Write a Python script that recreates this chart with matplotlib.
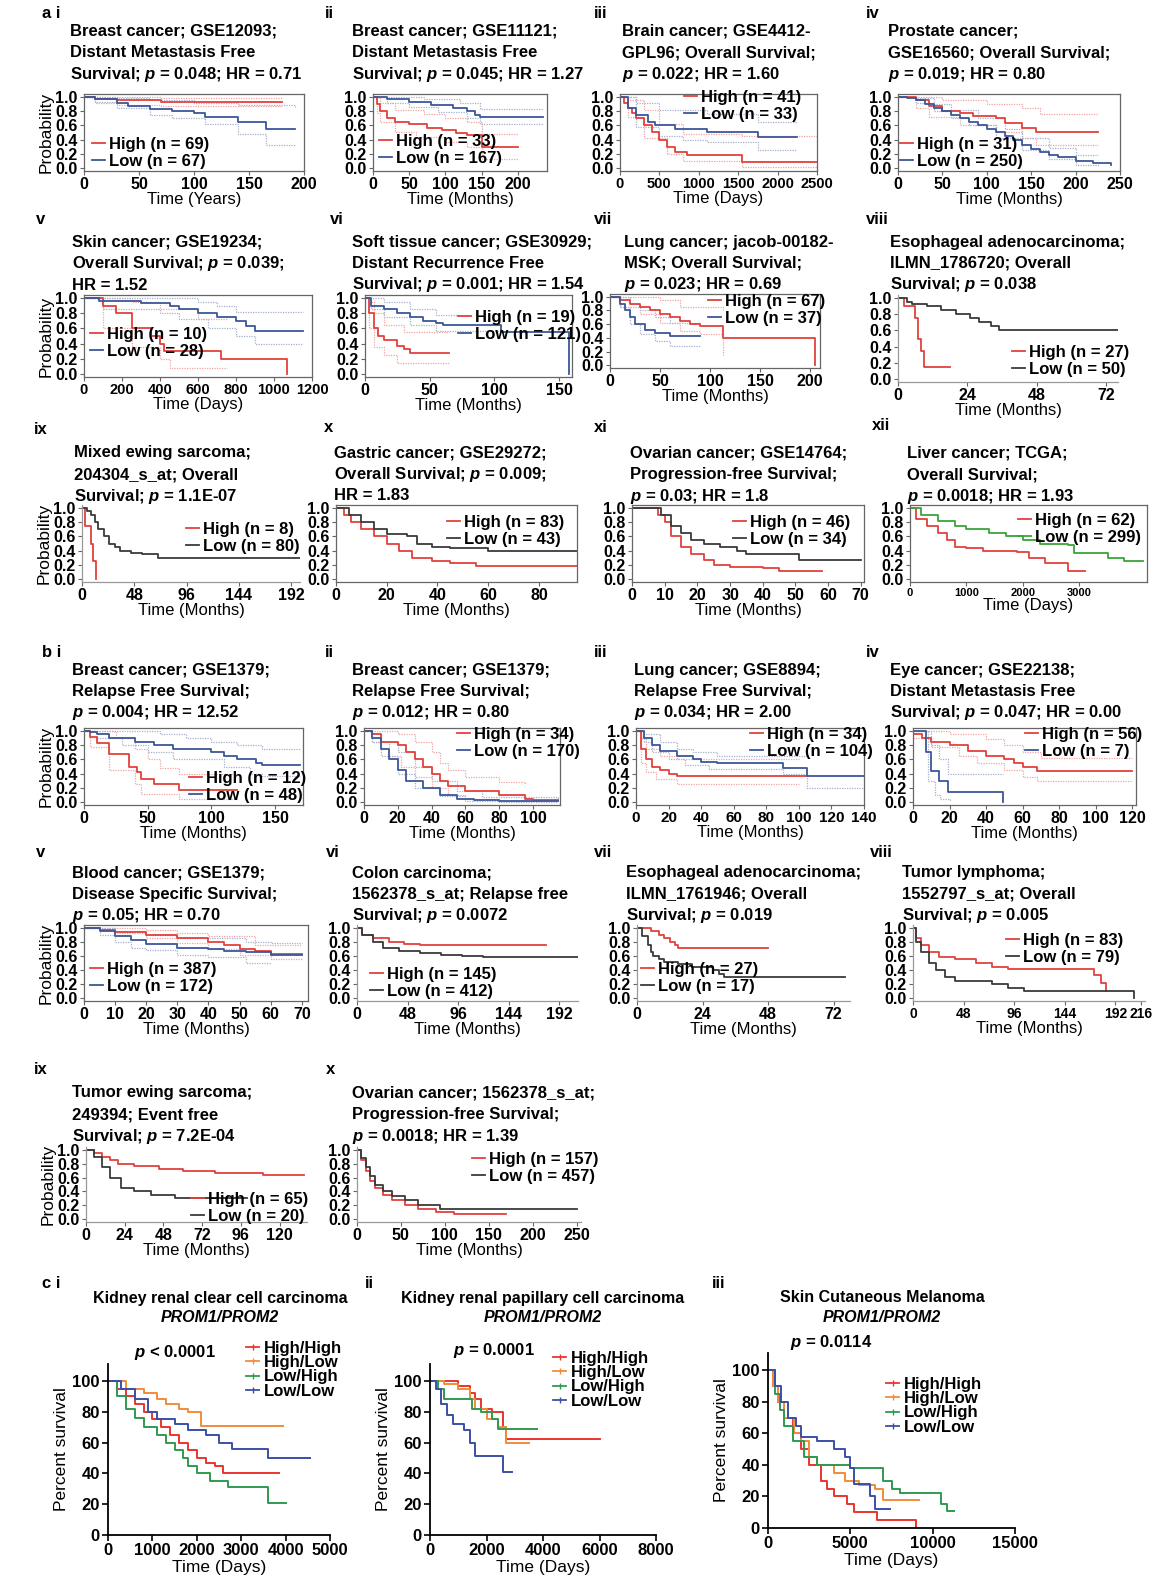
import matplotlib
matplotlib.use('Agg')
import matplotlib.pyplot as plt
from matplotlib.lines import Line2D

W, H = 1153, 1577
plt.rcParams['font.family'] = ['Liberation Sans', 'DejaVu Sans']
plt.rcParams['font.weight'] = 'bold'
plt.rcParams['mathtext.fontset'] = 'custom'
plt.rcParams['mathtext.it'] = 'Liberation Sans:italic:bold'
plt.rcParams['mathtext.rm'] = 'Liberation Sans:bold'
plt.rcParams['mathtext.bf'] = 'Liberation Sans:bold'

# ---------------- survival curves (time, survival) ----------------
# a i
A1_HI = ([0, 10, 30, 70, 180], [1, 0.97, 0.95, 0.93, 0.93])
A1_LO = ([0, 10, 30, 40, 60, 80, 100, 110, 140, 165, 192], [1, 0.97, 0.92, 0.87, 0.83, 0.8, 0.78, 0.72, 0.65, 0.55, 0.55])
A1_HI_UP = ([0, 30, 70, 180], [1, 1, 0.99, 0.99])
A1_HI_LO = ([0, 10, 30, 70, 180], [1, 0.92, 0.89, 0.87, 0.87])
A1_LO_UP = ([0, 30, 60, 100, 140, 192], [1, 0.99, 0.95, 0.92, 0.88, 0.86])
A1_LO_LO = ([0, 10, 30, 60, 80, 110, 140, 165, 192], [1, 0.93, 0.85, 0.75, 0.7, 0.62, 0.48, 0.33, 0.33])
# a ii
A2_HI = ([0, 5, 10, 20, 30, 50, 75, 95, 115, 130, 150, 200], [1, 0.9, 0.8, 0.7, 0.65, 0.62, 0.57, 0.53, 0.49, 0.46, 0.3, 0.3])
A2_LO = ([0, 20, 50, 80, 110, 130, 140, 148, 235], [1, 0.97, 0.93, 0.88, 0.85, 0.8, 0.75, 0.72, 0.72])
A2_HI_UP = ([0, 10, 30, 70, 100, 130, 150, 200], [1, 0.92, 0.82, 0.76, 0.7, 0.65, 0.48, 0.48])
A2_HI_LO = ([0, 5, 10, 30, 60, 100, 130, 150, 200], [1, 0.78, 0.65, 0.5, 0.43, 0.36, 0.3, 0.13, 0.13])
A2_LO_UP = ([0, 70, 120, 148, 235], [1, 0.97, 0.92, 0.83, 0.83])
A2_LO_LO = ([0, 20, 50, 90, 130, 148, 235], [1, 0.92, 0.86, 0.79, 0.7, 0.62, 0.62])
# a iii
A3_HI = ([0, 50, 100, 150, 200, 300, 400, 500, 600, 700, 850, 1550, 2500], [1, 0.92, 0.85, 0.78, 0.7, 0.6, 0.5, 0.4, 0.3, 0.22, 0.18, 0.08, 0.08])
A3_LO = ([0, 100, 200, 350, 450, 700, 1100, 1750, 2250], [1, 0.85, 0.75, 0.65, 0.6, 0.55, 0.5, 0.43, 0.43])
A3_HI_UP = ([0, 100, 300, 500, 800, 1550, 2500], [1, 0.95, 0.82, 0.62, 0.48, 0.45, 0.45])
A3_HI_LO = ([0, 100, 300, 600, 800, 1550, 2500], [1, 0.72, 0.42, 0.2, 0.1, 0.02, 0.02])
A3_LO_UP = ([0, 200, 500, 1100, 1750, 2250], [1, 0.92, 0.82, 0.76, 0.65, 0.65])
A3_LO_LO = ([0, 200, 500, 800, 1100, 1750, 2250], [1, 0.58, 0.45, 0.4, 0.37, 0.25, 0.25])
# a iv
A4_HI = ([0, 20, 35, 50, 70, 85, 110, 120, 140, 155, 225], [1, 0.95, 0.87, 0.8, 0.77, 0.73, 0.7, 0.63, 0.57, 0.5, 0.5])
A4_LO = ([0, 10, 20, 30, 40, 50, 60, 70, 80, 90, 100, 110, 120, 130, 140, 150, 160, 170, 180, 200, 220, 240],
         [1, 0.98, 0.95, 0.9, 0.85, 0.8, 0.75, 0.7, 0.65, 0.6, 0.55, 0.5, 0.45, 0.39, 0.33, 0.27, 0.22, 0.18, 0.15, 0.1, 0.07, 0.04])
A4_HI_UP = ([0, 50, 100, 140, 160, 225], [1, 0.95, 0.9, 0.85, 0.76, 0.76])
A4_HI_LO = ([0, 20, 35, 70, 110, 140, 155, 225], [1, 0.85, 0.72, 0.6, 0.5, 0.42, 0.32, 0.32])
A4_LO_UP = ([0, 20, 40, 60, 90, 120, 140, 170, 200, 225], [1, 0.98, 0.9, 0.82, 0.7, 0.55, 0.42, 0.28, 0.18, 0.18])
A4_LO_LO = ([0, 20, 40, 60, 80, 110, 140, 170, 200, 225], [1, 0.92, 0.8, 0.7, 0.6, 0.42, 0.25, 0.13, 0.05, 0.02])
# a v
A5_HI = ([0, 100, 170, 250, 350, 400, 420, 720, 1070], [1, 0.9, 0.8, 0.6, 0.5, 0.4, 0.3, 0.2, 0.0])
A5_LO = ([0, 80, 300, 450, 500, 600, 700, 800, 850, 900, 1150], [1, 0.96, 0.93, 0.89, 0.85, 0.8, 0.75, 0.7, 0.63, 0.56, 0.56])
A5_HI_UP = ([0, 250, 400, 600, 750], [1, 0.95, 0.85, 0.72, 0.72])
A5_HI_LO = ([0, 100, 250, 400, 450, 750], [1, 0.6, 0.35, 0.2, 0.08, 0.08])
A5_LO_UP = ([0, 500, 600, 700, 800, 1150], [1, 1, 0.95, 0.9, 0.82, 0.82])
A5_LO_LO = ([0, 100, 400, 500, 650, 800, 900, 1150], [1, 0.85, 0.8, 0.72, 0.6, 0.5, 0.4, 0.4])
# a vi
A6_HI = ([0, 3, 7, 10, 15, 25, 30, 35, 65], [1, 0.8, 0.6, 0.5, 0.45, 0.37, 0.33, 0.28, 0.28])
A6_LO = ([0, 5, 15, 25, 35, 45, 55, 60, 105, 158], [1, 0.9, 0.85, 0.8, 0.75, 0.7, 0.67, 0.64, 0.55, 0.0])
A6_HI_UP = ([0, 3, 7, 15, 30, 65], [1, 0.95, 0.8, 0.65, 0.55, 0.55])
A6_HI_LO = ([0, 3, 7, 15, 25, 65], [1, 0.6, 0.35, 0.25, 0.15, 0.13])
A6_LO_UP = ([0, 15, 35, 55, 75], [1, 0.95, 0.85, 0.78, 0.76])
A6_LO_LO = ([0, 5, 15, 35, 55, 105], [1, 0.85, 0.75, 0.65, 0.57, 0.55])
# a vii
A7_HI = ([0, 10, 20, 30, 40, 50, 60, 70, 80, 90, 113, 205], [1, 0.95, 0.9, 0.85, 0.8, 0.75, 0.7, 0.65, 0.6, 0.58, 0.4, 0.0])
A7_LO = ([0, 10, 15, 20, 25, 35, 45, 60, 90], [1, 0.9, 0.8, 0.7, 0.6, 0.52, 0.47, 0.43, 0.43])
A7_HI_UP = ([0, 30, 50, 70, 113], [1, 1, 0.95, 0.85, 0.8])
A7_HI_LO = ([0, 10, 30, 50, 70, 90, 113], [1, 0.85, 0.75, 0.62, 0.5, 0.45, 0.15])
A7_LO_UP = ([0, 20, 30, 45, 60, 90], [1, 0.9, 0.8, 0.7, 0.62, 0.6])
A7_LO_LO = ([0, 10, 20, 30, 45, 60, 90], [1, 0.85, 0.6, 0.45, 0.35, 0.28, 0.28])
# a viii - a xii
A8_HI = ([0, 2, 6, 7, 8, 9, 18], [1, 0.9, 0.75, 0.5, 0.35, 0.15, 0.15])
A8_LO = ([0, 3, 5, 10, 15, 20, 25, 28, 32, 35, 76], [1, 0.95, 0.93, 0.9, 0.85, 0.8, 0.75, 0.7, 0.65, 0.6, 0.6])
A9_HI = ([0, 3, 8, 10, 13], [1, 0.75, 0.5, 0.25, 0.0])
A9_LO = ([0, 5, 8, 12, 15, 20, 25, 30, 35, 45, 55, 70, 200], [1, 0.95, 0.9, 0.8, 0.7, 0.6, 0.5, 0.45, 0.4, 0.37, 0.35, 0.3, 0.3])
A10_HI = ([0, 3, 6, 10, 15, 20, 25, 30, 38, 45, 55, 95], [1, 0.9, 0.8, 0.7, 0.6, 0.5, 0.4, 0.3, 0.25, 0.22, 0.19, 0.19])
A10_LO = ([0, 5, 10, 15, 20, 28, 32, 38, 45, 60, 95], [1, 0.9, 0.8, 0.7, 0.63, 0.6, 0.5, 0.45, 0.43, 0.4, 0.4])
A11_HI = ([0, 8, 10, 12, 15, 18, 22, 25, 30, 40, 45, 58], [1, 0.9, 0.8, 0.6, 0.45, 0.35, 0.27, 0.2, 0.17, 0.15, 0.12, 0.12])
A11_LO = ([0, 9, 12, 15, 18, 22, 27, 32, 35, 51, 70], [1, 0.9, 0.75, 0.65, 0.55, 0.5, 0.45, 0.4, 0.35, 0.27, 0.27])
A12_HI = ([0, 100, 300, 500, 650, 800, 1000, 1300, 1900, 2100, 2400, 2800, 3100], [1, 0.85, 0.75, 0.65, 0.55, 0.45, 0.43, 0.4, 0.38, 0.3, 0.22, 0.12, 0.12])
A12_LO = ([0, 200, 500, 800, 1000, 1400, 1700, 2000, 2300, 2800, 2900, 3500, 3800, 4130], [1, 0.9, 0.82, 0.75, 0.7, 0.65, 0.6, 0.55, 0.5, 0.48, 0.37, 0.3, 0.25, 0.25])

# b i - b v (with confidence bands)
B1_HI = ([0, 5, 10, 20, 35, 42, 45, 55, 75, 120], [1, 0.92, 0.83, 0.67, 0.5, 0.42, 0.33, 0.25, 0.17, 0.17])
B1_LO = ([0, 5, 10, 20, 40, 55, 70, 100, 110, 120, 135, 140, 170], [1, 0.98, 0.95, 0.9, 0.85, 0.8, 0.75, 0.7, 0.65, 0.6, 0.55, 0.52, 0.52])
B1_HI_UP = ([0, 20, 25, 40, 50, 60, 75, 120], [1, 1, 0.9, 0.75, 0.6, 0.48, 0.4, 0.4])
B1_HI_LO = ([0, 5, 20, 40, 45, 75, 120], [1, 0.77, 0.45, 0.25, 0.12, 0.05, 0.05])
B1_LO_UP = ([0, 40, 60, 80, 100, 120, 140, 170], [1, 1, 0.95, 0.9, 0.85, 0.8, 0.75, 0.75])
B1_LO_LO = ([0, 10, 30, 50, 70, 110, 130, 140, 170], [1, 0.9, 0.8, 0.7, 0.6, 0.5, 0.4, 0.37, 0.37])
B2_HI = ([0, 5, 10, 20, 25, 30, 35, 40, 45, 50, 60, 80, 95, 100, 115], [1, 0.95, 0.85, 0.8, 0.7, 0.6, 0.5, 0.4, 0.3, 0.22, 0.15, 0.1, 0.05, 0.03, 0.03])
B2_LO = ([0, 5, 10, 15, 20, 25, 35, 45, 55, 65, 80, 115], [1, 0.9, 0.75, 0.6, 0.45, 0.3, 0.2, 0.1, 0.05, 0.03, 0.01, 0.01])
B2_HI_UP = ([0, 15, 20, 30, 40, 45, 50, 60, 80, 95], [1, 1, 0.95, 0.85, 0.7, 0.55, 0.45, 0.35, 0.28, 0.24])
B2_HI_LO = ([0, 5, 15, 22, 30, 40, 50, 60, 80, 115], [1, 0.85, 0.65, 0.5, 0.35, 0.2, 0.1, 0.05, 0.02, 0.02])
B2_LO_UP = ([0, 5, 10, 20, 30, 40, 55, 70, 115], [1, 0.95, 0.85, 0.7, 0.5, 0.3, 0.15, 0.07, 0.05])
B2_LO_LO = ([0, 5, 10, 20, 30, 45, 60, 80, 115], [1, 0.85, 0.65, 0.4, 0.2, 0.08, 0.02, 0.0, 0.0])
B3_HI = ([0, 3, 6, 10, 15, 20, 25, 105], [1, 0.75, 0.6, 0.5, 0.45, 0.4, 0.37, 0.37])
B3_LO = ([0, 5, 10, 15, 25, 35, 40, 50, 90, 105, 140], [1, 0.9, 0.8, 0.72, 0.65, 0.6, 0.57, 0.55, 0.48, 0.37, 0.37])
B3_HI_UP = ([0, 3, 6, 15, 25, 100], [1, 0.9, 0.75, 0.65, 0.6, 0.6])
B3_HI_LO = ([0, 3, 6, 12, 25, 100], [1, 0.55, 0.42, 0.32, 0.25, 0.25])
B3_LO_UP = ([0, 5, 15, 25, 35, 50, 105], [1, 0.95, 0.85, 0.75, 0.7, 0.65, 0.65])
B3_LO_LO = ([0, 5, 10, 20, 30, 45, 90, 105, 140], [1, 0.85, 0.7, 0.6, 0.52, 0.47, 0.4, 0.2, 0.2])
B4_HI = ([0, 5, 10, 20, 30, 40, 50, 55, 60, 68, 120], [0.95, 0.9, 0.85, 0.8, 0.72, 0.65, 0.6, 0.55, 0.5, 0.43, 0.43])
B4_LO = ([0, 7, 10, 14, 19, 49], [1, 0.71, 0.43, 0.29, 0.14, 0.0])
B4_HI_UP = ([0, 15, 20, 40, 50, 60, 70, 120], [1, 1, 0.95, 0.88, 0.8, 0.7, 0.62, 0.62])
B4_HI_LO = ([0, 10, 25, 35, 50, 60, 68, 120], [0.9, 0.78, 0.65, 0.55, 0.45, 0.35, 0.3, 0.3])
B4_LO_UP = ([0, 10, 14, 19, 49], [1, 0.8, 0.6, 0.4, 0.4])
B4_LO_LO = ([0, 8, 12, 15, 20], [1, 0.3, 0.1, 0.05, 0.02])
B5_HI = ([0, 5, 10, 20, 30, 40, 45, 50, 55, 60, 70], [1, 0.97, 0.94, 0.9, 0.85, 0.8, 0.75, 0.7, 0.67, 0.63, 0.63])
B5_LO = ([0, 5, 10, 15, 20, 30, 40, 45, 52, 60, 70], [1, 0.95, 0.88, 0.82, 0.77, 0.72, 0.7, 0.67, 0.65, 0.62, 0.62])
B5_HI_UP = ([0, 20, 30, 40, 55, 70], [1, 0.97, 0.92, 0.88, 0.76, 0.76])
B5_HI_LO = ([0, 10, 20, 30, 40, 50, 60, 70], [1, 0.92, 0.85, 0.78, 0.7, 0.62, 0.55, 0.55])
B5_LO_UP = ([0, 10, 20, 30, 52, 60, 70], [1, 0.95, 0.9, 0.85, 0.8, 0.78, 0.78])
B5_LO_LO = ([0, 5, 10, 15, 20, 30, 40, 52, 60], [1, 0.9, 0.8, 0.72, 0.68, 0.62, 0.58, 0.5, 0.5])
# b vi - b x
B6_HI = ([0, 5, 15, 30, 45, 60, 180], [1, 0.9, 0.85, 0.8, 0.77, 0.75, 0.75])
B6_LO = ([0, 5, 15, 25, 40, 60, 80, 100, 120, 210], [1, 0.9, 0.8, 0.72, 0.67, 0.64, 0.62, 0.6, 0.58, 0.58])
B7_HI = ([0, 5, 8, 10, 12, 14, 15, 48], [1, 0.95, 0.9, 0.85, 0.8, 0.75, 0.72, 0.72])
B7_LO = ([0, 2, 4, 5, 6, 8, 10, 15, 20, 28, 30, 32, 76], [1, 0.88, 0.75, 0.65, 0.6, 0.55, 0.52, 0.48, 0.45, 0.4, 0.35, 0.3, 0.3])
B8_HI = ([0, 3, 8, 15, 25, 40, 60, 75, 90, 172, 178, 183], [1, 0.85, 0.75, 0.65, 0.58, 0.55, 0.5, 0.45, 0.42, 0.33, 0.22, 0.1])
B8_LO = ([0, 3, 8, 15, 22, 30, 40, 75, 90, 105, 210], [1, 0.8, 0.65, 0.5, 0.4, 0.3, 0.25, 0.2, 0.15, 0.1, 0.0])
B9_HI = ([0, 5, 10, 15, 20, 30, 45, 60, 80, 110, 135], [1, 0.95, 0.9, 0.85, 0.8, 0.77, 0.72, 0.7, 0.67, 0.63, 0.63])
B9_LO = ([0, 5, 10, 15, 22, 30, 40, 55, 100], [1, 0.9, 0.75, 0.6, 0.45, 0.4, 0.35, 0.3, 0.3])
B10_HI = ([0, 5, 10, 15, 20, 30, 40, 55, 70, 90, 110, 170], [1, 0.85, 0.7, 0.55, 0.45, 0.35, 0.28, 0.2, 0.15, 0.1, 0.08, 0.08])
B10_LO = ([0, 5, 10, 15, 20, 30, 40, 55, 70, 95, 250], [1, 0.88, 0.75, 0.62, 0.5, 0.4, 0.33, 0.27, 0.2, 0.15, 0.15])

# c: PROM1/PROM2 groups, percent survival
C_GROUPS = ['High/High', 'High/Low', 'Low/High', 'Low/Low']
C1_HH = ([0, 200, 400, 600, 800, 1000, 1200, 1400, 1600, 1800, 2000, 2200, 2400, 2600, 3850], [100, 95, 90, 85, 80, 75, 70, 65, 60, 55, 50, 47, 45, 40, 40])
C1_HL = ([0, 400, 800, 1100, 1300, 1600, 1800, 2100, 3950], [100, 95, 92, 88, 85, 82, 80, 71, 71])
C1_LH = ([0, 200, 400, 600, 800, 1100, 1300, 1500, 1700, 1800, 2000, 2300, 2700, 3600, 4000], [100, 90, 82, 76, 70, 65, 60, 55, 50, 45, 40, 35, 31, 21, 21])
C1_LL = ([0, 300, 600, 900, 1100, 1500, 1800, 2200, 2500, 2800, 3600, 4550], [100, 95, 88, 80, 75, 72, 68, 65, 60, 56, 50, 50])
C2_HH = ([0, 1000, 1400, 1600, 1800, 2200, 2600, 2700, 6000], [100, 97, 92, 88, 82, 80, 70, 62, 62])
C2_HL = ([0, 500, 1000, 1400, 1600, 2000, 2400, 2700, 3500], [100, 98, 95, 88, 82, 75, 70, 60, 60])
C2_LH = ([0, 300, 500, 1500, 1800, 2200, 2400, 3800], [100, 95, 88, 82, 80, 75, 69, 69])
C2_LL = ([0, 200, 400, 600, 800, 1200, 1400, 1600, 2600, 2900], [100, 95, 85, 78, 72, 68, 60, 51, 41, 41])
C3_HH = ([0, 300, 600, 1000, 1500, 2000, 2500, 3200, 3600, 4000, 4800, 5200, 6600, 9000], [100, 90, 80, 70, 60, 50, 40, 30, 25, 20, 15, 10, 5, 0])
C3_HL = ([0, 300, 600, 1000, 1600, 2000, 2500, 3000, 4000, 4700, 5500, 6500, 7000, 9200], [100, 90, 80, 70, 60, 55, 45, 40, 35, 30, 27, 25, 18, 18])
C3_LH = ([0, 400, 700, 1000, 1500, 2200, 3000, 5000, 7000, 7500, 8000, 10500, 10900, 11300], [100, 85, 75, 65, 55, 45, 40, 38, 30, 25, 22, 15, 11, 11])
C3_LL = ([0, 400, 800, 1200, 1700, 2000, 3000, 4000, 4700, 5000, 5200, 6200, 6500, 7400], [100, 90, 80, 70, 65, 58, 55, 50, 45, 38, 28, 20, 12, 12])

# ---------------- colours ----------------
RED, BLUE, BLACK, GREEN = '#e2413c', '#3c5799', '#3a3a3a', '#3aa53a'
PINK, LBLUE = '#f2a4a4', '#a7b1cc'
C_COLORS = ['#e8352e', '#f28c3a', '#2f9a4f', '#3b4fa6']

fig = plt.figure(figsize=(W / 100, H / 100), dpi=100)


def place(l, t, r, b):
    return fig.add_axes([l / W, 1 - b / H, (r - l) / W, (b - t) / H])


def ftext(x, y, s, **kw):
    fig.text(x / W, 1 - y / H, s, **kw)


def kmp(tag, tag_xy, title, title_xy, rect, xlim, xticks, xlabel, curves, labels, leg_xy,
        ci=(), box=True, ylab=False, xfs=11.5):
    return dict(tag=tag, tag_xy=tag_xy, title=title, title_xy=title_xy, rect=rect, xlim=xlim,
                xticks=xticks, xlabel=xlabel, curves=curves, labels=labels, leg_xy=leg_xy,
                ci=ci, box=box, ylab=ylab, xfs=xfs)


MON, DAY = 'Time (Months)', 'Time (Days)'
PANELS = [
    kmp('a i', (42, 13), ['Breast cancer; GSE12093;', 'Distant Metastasis Free', 'Survival; $p$ = 0.048; HR = 0.71'], (70, 31),
        (84, 94, 304, 171), (0, 200), [0, 50, 100, 150, 200], 'Time (Years)',
        [(A1_HI, RED), (A1_LO, BLUE)], ['High (n = 69)', 'Low (n = 67)'], (92, 137),
        ci=[(A1_HI_UP, PINK), (A1_HI_LO, PINK), (A1_LO_UP, LBLUE), (A1_LO_LO, LBLUE)], ylab=True),
    kmp('ii', (325, 13), ['Breast cancer; GSE11121;', 'Distant Metastasis Free', 'Survival; $p$ = 0.045; HR = 1.27'], (352, 31),
        (373, 94, 547, 171), (0, 240), [0, 50, 100, 150, 200], MON,
        [(A2_HI, RED), (A2_LO, BLUE)], ['High (n = 33)', 'Low (n = 167)'], (379, 134),
        ci=[(A2_HI_UP, PINK), (A2_HI_LO, PINK), (A2_LO_UP, LBLUE), (A2_LO_LO, LBLUE)]),
    kmp('iii', (594, 13), ['Brain cancer; GSE4412-', 'GPL96; Overall Survival;', '$p$ = 0.022; HR = 1.60'], (622, 31),
        (620, 94, 817, 171), (0, 2500), [0, 500, 1000, 1500, 2000, 2500], DAY,
        [(A3_HI, RED), (A3_LO, BLUE)], ['High (n = 41)', 'Low (n = 33)'], (684, 90),
        ci=[(A3_HI_UP, PINK), (A3_HI_LO, PINK), (A3_LO_UP, LBLUE), (A3_LO_LO, LBLUE)], xfs=10.5),
    kmp('iv', (866, 13), ['Prostate cancer;', 'GSE16560; Overall Survival;', '$p$ = 0.019; HR = 0.80'], (888, 31),
        (898, 94, 1120, 171), (0, 250), [0, 50, 100, 150, 200, 250], MON,
        [(A4_HI, RED), (A4_LO, BLUE)], ['High (n = 31)', 'Low (n = 250)'], (900, 137),
        ci=[(A4_HI_UP, PINK), (A4_HI_LO, PINK), (A4_LO_UP, LBLUE), (A4_LO_LO, LBLUE)]),

    kmp('v', (36, 220), ['Skin cancer; GSE19234;', 'Overall Survival; $p$ = 0.039;', 'HR = 1.52'], (72, 242),
        (84, 295, 312, 377), (0, 1200), [0, 200, 400, 600, 800, 1000, 1200], DAY,
        [(A5_HI, RED), (A5_LO, BLUE)], ['High (n = 10)', 'Low (n = 28)'], (90, 327),
        ci=[(A5_HI_UP, PINK), (A5_HI_LO, PINK), (A5_LO_UP, LBLUE), (A5_LO_LO, LBLUE)], ylab=True, xfs=10.5),
    kmp('vi', (330, 220), ['Soft tissue cancer; GSE30929;', 'Distant Recurrence Free', 'Survival; $p$ = 0.001; HR = 1.54'], (352, 242),
        (365, 295, 572, 377), (0, 160), [0, 50, 100, 150], MON,
        [(A6_HI, RED), (A6_LO, BLUE)], ['High (n = 19)', 'Low (n = 121)'], (458, 310),
        ci=[(A6_HI_UP, PINK), (A6_HI_LO, PINK), (A6_LO_UP, LBLUE), (A6_LO_LO, LBLUE)]),
    kmp('vii', (594, 220), ['Lung cancer; jacob-00182-', 'MSK; Overall Survival;', '$p$ = 0.023; HR = 0.69'], (624, 242),
        (610, 294, 820, 368), (0, 210), [0, 50, 100, 150, 200], MON,
        [(A7_HI, RED), (A7_LO, BLUE)], ['High (n = 67)', 'Low (n = 37)'], (708, 294),
        ci=[(A7_HI_UP, PINK), (A7_HI_LO, PINK), (A7_LO_UP, LBLUE), (A7_LO_LO, LBLUE)]),
    kmp('viii', (866, 220), ['Esophageal adenocarcinoma;', 'ILMN_1786720; Overall', 'Survival; $p$ = 0.038'], (890, 242),
        (898, 295, 1118, 382), (0, 76), [0, 24, 48, 72], MON,
        [(A8_HI, RED), (A8_LO, BLACK)], ['High (n = 27)', 'Low (n = 50)'], (1012, 345), box=False),

    kmp('ix', (34, 430), ['Mixed ewing sarcoma;', '204304_s_at; Overall', 'Survival; $p$ = 1.1E-07'], (74, 453),
        (82, 505, 300, 582), (0, 200), [0, 48, 96, 144, 192], MON,
        [(A9_HI, RED), (A9_LO, BLACK)], ['High (n = 8)', 'Low (n = 80)'], (186, 522), box=False, ylab=True),
    kmp('x', (324, 428), ['Gastric cancer; GSE29272;', 'Overall Survival; $p$ = 0.009;', 'HR = 1.83'], (334, 453),
        (336, 505, 577, 582), (0, 95), [0, 20, 40, 60, 80], MON,
        [(A10_HI, RED), (A10_LO, BLACK)], ['High (n = 83)', 'Low (n = 43)'], (447, 515)),
    kmp('xi', (594, 428), ['Ovarian cancer; GSE14764;', 'Progression-free Survival;', '$p$ = 0.03; HR = 1.8'], (630, 453),
        (632, 505, 864, 582), (0, 71), [0, 10, 20, 30, 40, 50, 60, 70], MON,
        [(A11_HI, RED), (A11_LO, BLACK)], ['High (n = 46)', 'Low (n = 34)'], (733, 515)),
    kmp('xii', (872, 426), ['Liver cancer; TCGA;', 'Overall Survival;', '$p$ = 0.0018; HR = 1.93'], (907, 453),
        (910, 505, 1147, 582), (0, 4200), [0, 1000, 2000, 3000], DAY,
        [(A12_HI, RED), (A12_LO, GREEN)], ['High (n = 62)', 'Low (n = 299)'], (1018, 513), xfs=8),

    kmp('b i', (42, 652), ['Breast cancer; GSE1379;', 'Relapse Free Survival;', '$p$ = 0.004; HR = 12.52'], (72, 670),
        (84, 728, 303, 805), (0, 172), [0, 50, 100, 150], MON,
        [(B1_HI, RED), (B1_LO, BLUE)], ['High (n = 12)', 'Low (n = 48)'], (189, 771),
        ci=[(B1_HI_UP, PINK), (B1_HI_LO, PINK), (B1_LO_UP, LBLUE), (B1_LO_LO, LBLUE)], ylab=True),
    kmp('ii', (325, 652), ['Breast cancer; GSE1379;', 'Relapse Free Survival;', '$p$ = 0.012; HR = 0.80'], (352, 670),
        (364, 728, 560, 805), (0, 116), [0, 20, 40, 60, 80, 100], MON,
        [(B2_HI, RED), (B2_LO, BLUE)], ['High (n = 34)', 'Low (n = 170)'], (457, 727),
        ci=[(B2_HI_UP, PINK), (B2_HI_LO, PINK), (B2_LO_UP, LBLUE), (B2_LO_LO, LBLUE)]),
    kmp('iii', (594, 652), ['Lung cancer; GSE8894;', 'Relapse Free Survival;', '$p$ = 0.034; HR = 2.00'], (634, 670),
        (636, 728, 864, 805), (0, 140), [0, 20, 40, 60, 80, 100, 120, 140], MON,
        [(B3_HI, RED), (B3_LO, BLUE)], ['High (n = 34)', 'Low (n = 104)'], (750, 727),
        ci=[(B3_HI_UP, PINK), (B3_HI_LO, PINK), (B3_LO_UP, LBLUE), (B3_LO_LO, LBLUE)], xfs=11),
    kmp('iv', (866, 652), ['Eye cancer; GSE22138;', 'Distant Metastasis Free', 'Survival; $p$ = 0.047; HR = 0.00'], (890, 670),
        (913, 728, 1136, 805), (0, 122), [0, 20, 40, 60, 80, 100, 120], MON,
        [(B4_HI, RED), (B4_LO, BLUE)], ['High (n = 56)', 'Low (n = 7)'], (1025, 727),
        ci=[(B4_HI_UP, PINK), (B4_HI_LO, PINK), (B4_LO_UP, LBLUE), (B4_LO_LO, LBLUE)]),

    kmp('v', (36, 852), ['Blood cancer; GSE1379;', 'Disease Specific Survival;', '$p$ = 0.05; HR = 0.70'], (72, 873),
        (84, 925, 308, 1001), (0, 72), [0, 10, 20, 30, 40, 50, 60, 70], MON,
        [(B5_HI, RED), (B5_LO, BLUE)], ['High (n = 387)', 'Low (n = 172)'], (90, 962),
        ci=[(B5_HI_UP, PINK), (B5_HI_LO, PINK), (B5_LO_UP, LBLUE), (B5_LO_LO, LBLUE)], ylab=True),
    kmp('vi', (326, 852), ['Colon carcinoma;', '1562378_s_at; Relapse free', 'Survival; $p$ = 0.0072'], (352, 873),
        (357, 925, 578, 1001), (0, 210), [0, 48, 96, 144, 192], MON,
        [(B6_HI, RED), (B6_LO, BLACK)], ['High (n = 145)', 'Low (n = 412)'], (370, 967), box=False),
    kmp('vii', (594, 852), ['Esophageal adenocarcinoma;', 'ILMN_1761946; Overall', 'Survival; $p$ = 0.019'], (626, 873),
        (637, 925, 850, 1001), (0, 78), [0, 24, 48, 72], MON,
        [(B7_HI, RED), (B7_LO, BLACK)], ['High (n = 27)', 'Low (n = 17)'], (641, 962), box=False),
    kmp('viii', (870, 852), ['Tumor lymphoma;', '1552797_s_at; Overall', 'Survival; $p$ = 0.005'], (902, 873),
        (913, 925, 1145, 1001), (0, 220), [0, 48, 96, 144, 192, 216], MON,
        [(B8_HI, RED), (B8_LO, BLACK)], ['High (n = 83)', 'Low (n = 79)'], (1006, 933), box=False, xfs=10),

    kmp('ix', (34, 1070), ['Tumor ewing sarcoma;', '249394; Event free', 'Survival; $p$ = 7.2E-04'], (72, 1093),
        (86, 1147, 307, 1222), (0, 137), [0, 24, 48, 72, 96, 120], MON,
        [(B9_HI, RED), (B9_LO, BLACK)], ['High (n = 65)', 'Low (n = 20)'], (191, 1192), box=False, ylab=True),
    kmp('x', (326, 1070), ['Ovarian cancer; 1562378_s_at;', 'Progression-free Survival;', '$p$ = 0.0018; HR = 1.39'], (352, 1093),
        (357, 1147, 581, 1222), (0, 255), [0, 50, 100, 150, 200, 250], MON,
        [(B10_HI, RED), (B10_LO, BLACK)], ['High (n = 157)', 'Low (n = 457)'], (472, 1152), box=False),
]

C_PANELS = [
    dict(tag='c i', tag_xy=(42, 1283), title=['Kidney renal clear cell carcinoma', 'PROM1/PROM2'], tcx=220,
         rect=(108, 1364, 330, 1535), xlim=(0, 5000), xticks=[0, 1000, 2000, 3000, 4000, 5000],
         curves=[C1_HH, C1_HL, C1_LH, C1_LL], ptxt='$p$ < 0.0001', p_xy=(134, 1352), leg_xy=(246, 1341)),
    dict(tag='ii', tag_xy=(365, 1283), title=['Kidney renal papillary cell carcinoma', 'PROM1/PROM2'], tcx=543,
         rect=(430, 1364, 656, 1535), xlim=(0, 8000), xticks=[0, 2000, 4000, 6000, 8000],
         curves=[C2_HH, C2_HL, C2_LH, C2_LL], ptxt='$p$ = 0.0001', p_xy=(453, 1351), leg_xy=(553, 1351)),
    dict(tag='iii', tag_xy=(712, 1283), title=['Skin Cutaneous Melanoma', 'PROM1/PROM2'], tcx=882,
         rect=(768, 1353, 1015, 1528), xlim=(0, 15000), xticks=[0, 5000, 10000, 15000],
         curves=[C3_HH, C3_HL, C3_LH, C3_LL], ptxt='$p$ = 0.0114', p_xy=(790, 1342), leg_xy=(886, 1377)),
]

# ---------------- Kaplan-Meier panels (a, b) ----------------
for p in PANELS:
    ax = place(*p['rect'])
    for curve, col in p['ci']:
        ax.step(curve[0], curve[1], where='post', color=col, lw=0.9, ls=(0, (1, 1)))
    hs = [ax.step(c[0], c[1], where='post', color=col, lw=1.3)[0] for c, col in p['curves']]
    ax.set_xlim(*p['xlim'])
    ax.set_ylim(-0.04, 1.04)
    ax.set_xticks(p['xticks'])
    ax.set_yticks([0, 0.2, 0.4, 0.6, 0.8, 1.0])
    ax.set_yticklabels(['0.0', '0.2', '0.4', '0.6', '0.8', '1.0'])
    ax.tick_params(length=3, width=0.8, pad=1.5, color='#666666')
    ax.tick_params(axis='y', labelsize=11.5)
    ax.tick_params(axis='x', labelsize=p['xfs'])
    ax.set_xlabel(p['xlabel'], fontsize=12, labelpad=0)
    if p['ylab']:
        ax.set_ylabel('Probability', fontsize=12.5, labelpad=1)
    for s in ax.spines.values():
        s.set_color('#666666')
        s.set_linewidth(0.9)
    if not p['box']:
        ax.spines['top'].set_visible(False)
        ax.spines['right'].set_visible(False)
        ax.spines['left'].set_color('#999999')
        ax.spines['bottom'].set_color('#999999')
    lx, ly = p['leg_xy']
    ax.legend(hs, p['labels'], loc='upper left', bbox_to_anchor=(lx / W, 1 - ly / H),
              bbox_transform=fig.transFigure, frameon=False, fontsize=12, handlelength=0.8,
              handletextpad=0.2, labelspacing=0.1, borderpad=0, borderaxespad=0)
    tx, ty = p['title_xy']
    for i, line in enumerate(p['title']):
        ftext(tx, ty + 21.5 * i, line, fontsize=12, va='center', ha='left')
    ftext(p['tag_xy'][0], p['tag_xy'][1], p['tag'], fontsize=12, va='center', ha='left')

# ---------------- c: PROM1/PROM2 panels ----------------
for p in C_PANELS:
    ax = place(*p['rect'])
    hs = []
    for c, col in zip(p['curves'], C_COLORS):
        ax.step(c[0], c[1], where='post', color=col, lw=1.4)
        hs.append(Line2D([], [], color=col, lw=1.3, marker='|', markersize=4))
    ax.set_xlim(*p['xlim'])
    ax.set_ylim(0, 111)
    ax.set_xticks(p['xticks'])
    ax.set_yticks([0, 20, 40, 60, 80, 100])
    ax.tick_params(labelsize=12, length=4, width=1.2, pad=2)
    for side in ['top', 'right']:
        ax.spines[side].set_visible(False)
    for side in ['left', 'bottom']:
        ax.spines[side].set_linewidth(1.3)
    ax.set_xlabel('Time (Days)', fontsize=12.5, labelpad=1)
    ax.set_ylabel('Percent survival', fontsize=12.5, labelpad=2)
    lx, ly = p['leg_xy']
    ax.legend(hs, C_GROUPS, loc='upper left', bbox_to_anchor=(lx / W, 1 - ly / H),
              bbox_transform=fig.transFigure, frameon=False, fontsize=12, handlelength=0.8,
              handletextpad=0.3, labelspacing=-0.05, borderpad=0, borderaxespad=0)
    ftext(p['p_xy'][0], p['p_xy'][1], p['ptxt'], fontsize=12, va='center', ha='left')
    ftext(p['tcx'], 1298, p['title'][0], fontsize=11.5, va='center', ha='center')
    ftext(p['tcx'], 1318, p['title'][1], fontsize=11.5, va='center', ha='center', style='italic')
    ftext(p['tag_xy'][0], p['tag_xy'][1], p['tag'], fontsize=12, va='center', ha='left')

fig.savefig('out.png', dpi=100)
